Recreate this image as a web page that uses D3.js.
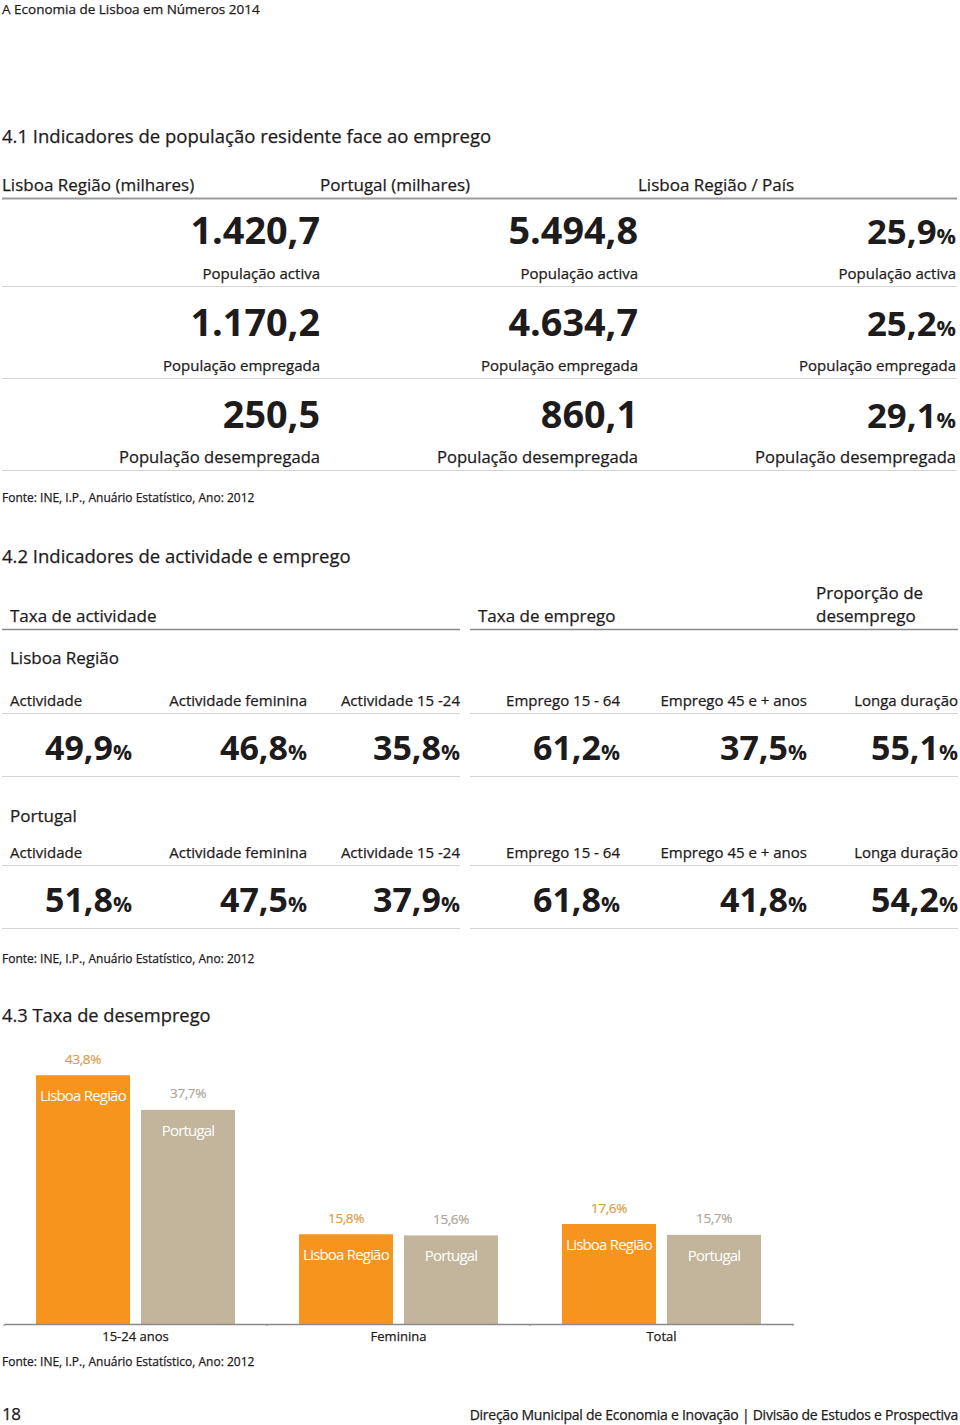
<!DOCTYPE html>
<html><head><meta charset="utf-8">
<script src="https://cdn.jsdelivr.net/npm/d3@7"></script>
<style>
body{margin:0;background:#fff}
svg{display:block}
text{font-family:'Open Sans',sans-serif;fill:#1e1b1c;stroke:#1e1b1c;stroke-width:0.25px}
text.bold{stroke:none}
text.white{stroke:none}
</style>
</head><body><svg id="c" width="960" height="1425"></svg>
<script>
// ---------- data ----------
const pageHeader = "A Economia de Lisboa em Números 2014";
const title41 = "4.1 Indicadores de população residente face ao emprego";
const columns41 = ["Lisboa Região (milhares)", "Portugal (milhares)", "Lisboa Região / País"];
const indicators41 = ["População activa", "População empregada", "População desempregada"];
const lisboa41 = [1420.7, 1170.2, 250.5];
const portugal41 = [5494.8, 4634.7, 860.1];
const ratio41 = [25.9, 25.2, 29.1];
const sourceText = "Fonte: INE, I.P., Anuário Estatístico, Ano: 2012";

const title42 = "4.2 Indicadores de actividade e emprego";
const groups42 = ["Taxa de actividade", "Taxa de emprego", "Proporção de|desemprego"];
const regions42 = ["Lisboa Região", "Portugal"];
const indicators42 = ["Actividade", "Actividade feminina", "Actividade 15 -24", "Emprego 15 - 64", "Emprego 45 e + anos", "Longa duração"];
const lisboa42 = [49.9, 46.8, 35.8, 61.2, 37.5, 55.1];
const portugal42 = [51.8, 47.5, 37.9, 61.8, 41.8, 54.2];

const title43 = "4.3 Taxa de desemprego";
const categories43 = ["15-24 anos", "Feminina", "Total"];
const series43 = ["Lisboa Região", "Portugal"];
const lisboa43 = [43.8, 15.8, 17.6];
const portugal43 = [37.7, 15.6, 15.7];

const footerPage = "18";
const footerText = "Direção Municipal de Economia e Inovação | Divisão de Estudos e Prospectiva";

// ---------- helpers ----------
const pt = d3.formatLocale({decimal: ",", thousands: ".", grouping: [3], currency: ["", " €"]});
const f1 = pt.format(",.1f");
const svg = d3.select("#c");
const ink = "#1e1b1c";

function txt(g, x, y, s, size, opts = {}) {
  const t = g.append("text").attr("x", x).attr("y", y).attr("font-size", size).text(s);
  if (opts.anchor) t.attr("text-anchor", opts.anchor);
  if (opts.weight) t.attr("font-weight", opts.weight).attr("class", "bold");
  if (opts.fill) t.style("fill", opts.fill);
  if (opts.ls !== undefined) t.attr("letter-spacing", opts.ls);
  return t;
}
function pct(g, x, y, v, size) {
  const t = g.append("text").attr("class", "bold").attr("x", x).attr("y", y).attr("text-anchor", "end")
    .attr("font-size", size).attr("font-weight", 700);
  t.append("tspan").text(f1(v));
  t.append("tspan").attr("font-size", size * 0.62).text("%");
  return t;
}
function hline(g, x1, x2, y, color, w) {
  g.append("line").attr("x1", x1).attr("x2", x2).attr("y1", y).attr("y2", y)
    .attr("stroke", color).attr("stroke-width", w);
}

// ---------- page header ----------
txt(svg, 2, 14, pageHeader, 13.5);

// ---------- 4.1 ----------
const s41 = svg.append("g");
txt(s41, 2, 143, title41, 18.5);
const x41 = d3.scaleBand().domain(columns41).range([2, 956]);
const y41 = d3.scaleBand().domain(indicators41).range([198, 474]);
columns41.forEach(c => txt(s41, x41(c), 191, c, 17));
hline(s41, 2, 957, 198.5, "#9a9a9a", 2);
const vals41 = [lisboa41, portugal41, ratio41];
indicators41.forEach((ind, i) => {
  const y0 = y41(ind);
  columns41.forEach((c, j) => {
    const xr = x41(c) + x41.bandwidth();
    const v = vals41[j][i];
    if (j < 2) txt(s41, xr, y0 + 46, f1(v), 37.8, {anchor: "end", weight: 700});
    else pct(s41, xr, y0 + 46, v, 34.8);
    txt(s41, xr, y0 + 81, ind, i === 2 ? 16.6 : 15, {anchor: "end"});
  });
  hline(s41, 2, 957, y0 + 88.5, "#d4d4d4", 1);
});
txt(s41, 2, 502, sourceText, 12);

// ---------- 4.2 ----------
const s42 = svg.append("g");
txt(s42, 2, 563, title42, 18.5);
const colRight42 = [132, 307, 460, 620, 807, 958];
const halves42 = [[2, 460], [470, 958]];
const groupX42 = [10, 478, 816];
groups42.forEach((gname, i) => {
  const parts = gname.split("|");
  parts.forEach((p, k) => txt(s42, groupX42[i], 622 - (parts.length - 1 - k) * 23, p, 17));
});
halves42.forEach(h => hline(s42, h[0], h[1], 629.5, "#8a8a8a", 1.5));
const vals42 = [lisboa42, portugal42];
regions42.forEach((r, b) => {
  const base = b * 152;
  txt(s42, 10, 664 + b * 158, r, 17);
  indicators42.forEach((ind, j) => {
    if (j === 0) txt(s42, 10, 706 + base, ind, 15);
    else txt(s42, colRight42[j], 706 + base, ind, 15, {anchor: "end"});
    pct(s42, colRight42[j], 760 + base, vals42[b][j], 34);
  });
  halves42.forEach(h => {
    hline(s42, h[0], h[1], 713.5 + base, "#d4d4d4", 1);
    hline(s42, h[0], h[1], 776.5 + base, "#d4d4d4", 1);
  });
});
txt(s42, 2, 963, sourceText, 12);

// ---------- 4.3 ----------
const s43 = svg.append("g");
txt(s43, 2, 1022, title43, 18.3);
const barColor = {"Lisboa Região": "#f7941e", "Portugal": "#c2b59b"};
const valColor = {"Lisboa Região": "#e09a45", "Portugal": "#aea598"};
const x0 = d3.scaleBand().domain(categories43).range([4, 793]);
const x1 = d3.scaleBand().domain(series43).range([0, x0.bandwidth()]).paddingInner(0.105).paddingOuter(0.305);
const y = d3.scaleLinear().domain([0, 50]).range([1324, 1040]);
const rows43 = categories43.map((c, i) => ({cat: c, vals: [
  {s: series43[0], v: lisboa43[i]}, {s: series43[1], v: portugal43[i]}]}));
const grp = s43.selectAll("g.cat").data(rows43).join("g").attr("class", "cat")
  .attr("transform", d => `translate(${x0(d.cat)},0)`);
grp.selectAll("rect").data(d => d.vals).join("rect")
  .attr("x", d => x1(d.s)).attr("width", x1.bandwidth())
  .attr("y", d => y(d.v)).attr("height", d => y(0) - y(d.v))
  .attr("fill", d => barColor[d.s]);
grp.selectAll("text.val").data(d => d.vals).join("text").attr("class", "val bold")
  .attr("x", d => x1(d.s) + x1.bandwidth() / 2).attr("y", d => y(d.v) - 11.5)
  .attr("text-anchor", "middle").attr("font-size", 13.5).attr("letter-spacing", -0.4)
  .style("fill", d => valColor[d.s]).style("stroke", d => valColor[d.s]).style("stroke-width", "0.2px")
  .text(d => f1(d.v) + "%");
grp.selectAll("text.lab").data(d => d.vals).join("text").attr("class", "lab white")
  .attr("x", d => x1(d.s) + x1.bandwidth() / 2).attr("y", d => y(d.v) + 26)
  .attr("text-anchor", "middle").attr("font-size", 15).attr("letter-spacing", -0.8)
  .style("fill", "#fff").text(d => d.s);
// axis
const axis = s43.append("g").attr("transform", `translate(0,${y(0)})`)
  .call(d3.axisBottom(x0).tickSize(0).tickPadding(8));
axis.select(".domain").attr("stroke", "#8a8a8a").attr("stroke-width", 1.5);
axis.selectAll(".tick text").attr("font-family", "'Open Sans',sans-serif").attr("font-size", 13)
  .style("fill", ink).style("stroke", ink).style("stroke-width", "0.25px");
const bounds = categories43.map(c => x0(c)).concat([x0.range()[1]]);
axis.selectAll("line.bnd").data(bounds).join("line").attr("class", "bnd")
  .attr("x1", d => d).attr("x2", d => d).attr("y1", 0).attr("y2", 2)
  .attr("stroke", "#8a8a8a").attr("stroke-width", 1);
txt(s43, 2, 1366, sourceText, 12);

// ---------- footer ----------
txt(svg, 2, 1420, footerPage, 17, {ls: -0.5});
txt(svg, 958, 1420, footerText, 14, {anchor: "end", ls: -0.25});
</script>
</body></html>
